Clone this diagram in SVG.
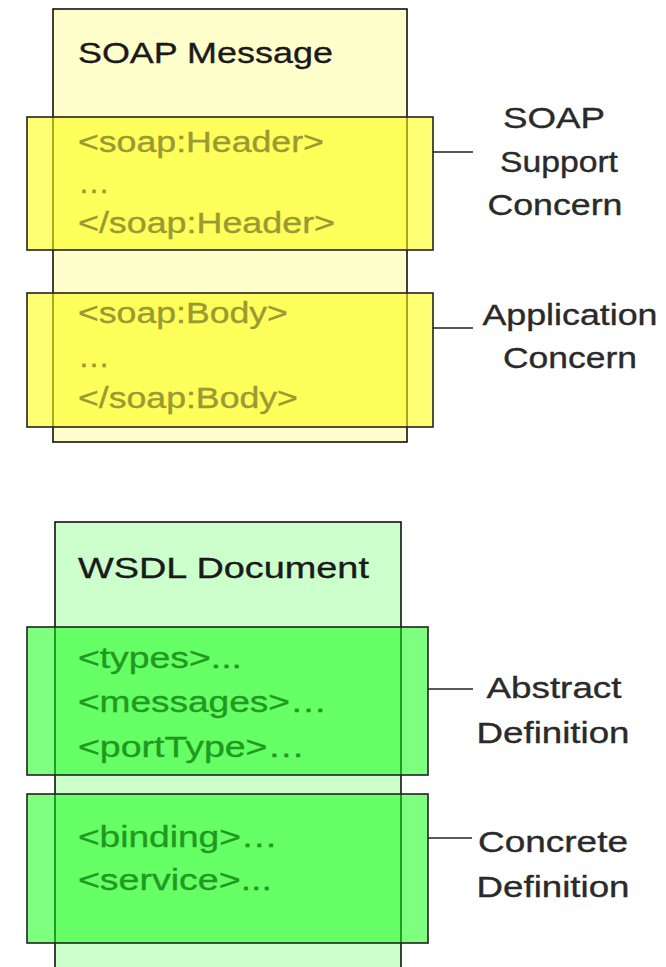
<svg xmlns="http://www.w3.org/2000/svg" width="666" height="967" viewBox="0 0 666 967">
  <style>
    text { font-family: "Liberation Sans", Arial, sans-serif; font-size: 29px; stroke-width: 0.35; }
    .title { fill: #1a1a1a; stroke: #1a1a1a; }
    .label { fill: #2a2a2a; stroke: #2a2a2a; text-anchor: middle; }
    .soapTxt { fill: #9a9a30; stroke: #9a9a30; }
    .wsdlTxt { fill: #1f9a1f; stroke: #1f9a1f; }
    .outer { stroke: #111; stroke-width: 1.6; }
    .part { stroke: #222; stroke-width: 1.6; }
    .soapOuter { fill: #ffffcc; }
    .soapPart { fill: #ffff00; fill-opacity: 0.55; }
    .wsdlOuter { fill: #ccffcc; }
    .wsdlPart { fill: #00ff00; fill-opacity: 0.5; }
    .conn { stroke: #222; stroke-width: 1.6; fill: none; }
  </style>

  <rect width="666" height="967" fill="#ffffff"/>

  <!-- SOAP message container -->
  <g id="soap-message">
    <rect class="outer soapOuter" x="53" y="9" width="354" height="433"/>
    <g transform="scale(1.22 1)">
      <text class="title" x="63.9" y="63" textLength="209" lengthAdjust="spacingAndGlyphs">SOAP Message</text>
    </g>
  </g>

  <g id="soap-header">
    <rect class="part soapPart" x="27" y="117" width="406" height="133"/>
    <g transform="scale(1.22 1)">
      <text class="soapTxt" x="63.9" y="152" textLength="201.6" lengthAdjust="spacingAndGlyphs">&lt;soap:Header&gt;</text>
      <text class="soapTxt" x="63.9" y="193" textLength="26.2" lengthAdjust="spacingAndGlyphs">…</text>
      <text class="soapTxt" x="63.9" y="233" textLength="210.7" lengthAdjust="spacingAndGlyphs">&lt;/soap:Header&gt;</text>
    </g>
  </g>

  <g id="soap-body">
    <rect class="part soapPart" x="27" y="293" width="406" height="134"/>
    <g transform="scale(1.22 1)">
      <text class="soapTxt" x="63.9" y="323" textLength="172.1" lengthAdjust="spacingAndGlyphs">&lt;soap:Body&gt;</text>
      <text class="soapTxt" x="63.9" y="367" textLength="26.2" lengthAdjust="spacingAndGlyphs">…</text>
      <text class="soapTxt" x="63.9" y="408" textLength="180.3" lengthAdjust="spacingAndGlyphs">&lt;/soap:Body&gt;</text>
    </g>
  </g>

  <g id="soap-support-concern">
    <g transform="scale(1.22 1)">
      <text class="label" x="454.1" y="128" textLength="83.6" lengthAdjust="spacingAndGlyphs">SOAP</text>
      <text class="label" x="458.2" y="172" textLength="96.7" lengthAdjust="spacingAndGlyphs">Support</text>
      <text class="label" x="454.9" y="215" textLength="110.7" lengthAdjust="spacingAndGlyphs">Concern</text>
    </g>
  </g>

  <g id="application-concern">
    <g transform="scale(1.22 1)">
      <text class="label" x="467.2" y="325" textLength="143.4" lengthAdjust="spacingAndGlyphs">Application</text>
      <text class="label" x="467.2" y="368" textLength="109.8" lengthAdjust="spacingAndGlyphs">Concern</text>
    </g>
  </g>

  <!-- WSDL document container -->
  <g id="wsdl-document">
    <rect class="outer wsdlOuter" x="55" y="522" width="346" height="460"/>
    <g transform="scale(1.22 1)">
      <text class="title" x="63.9" y="578" textLength="238.5" lengthAdjust="spacingAndGlyphs">WSDL Document</text>
    </g>
  </g>

  <g id="wsdl-abstract">
    <rect class="part wsdlPart" x="27" y="627" width="401" height="148"/>
    <g transform="scale(1.22 1)">
      <text class="wsdlTxt" x="63.9" y="668" textLength="134.4" lengthAdjust="spacingAndGlyphs">&lt;types&gt;...</text>
      <text class="wsdlTxt" x="63.9" y="712" textLength="204.1" lengthAdjust="spacingAndGlyphs">&lt;messages&gt;…</text>
      <text class="wsdlTxt" x="63.9" y="757" textLength="186.1" lengthAdjust="spacingAndGlyphs">&lt;portType&gt;…</text>
    </g>
  </g>

  <g id="wsdl-concrete">
    <rect class="part wsdlPart" x="27" y="794" width="401" height="149"/>
    <g transform="scale(1.22 1)">
      <text class="wsdlTxt" x="63.9" y="847" textLength="163.9" lengthAdjust="spacingAndGlyphs">&lt;binding&gt;…</text>
      <text class="wsdlTxt" x="63.9" y="890" textLength="159" lengthAdjust="spacingAndGlyphs">&lt;service&gt;...</text>
    </g>
  </g>

  <g id="abstract-definition">
    <g transform="scale(1.22 1)">
      <text class="label" x="454.1" y="698" textLength="110.7" lengthAdjust="spacingAndGlyphs">Abstract</text>
      <text class="label" x="453.3" y="743" textLength="125.4" lengthAdjust="spacingAndGlyphs">Definition</text>
    </g>
  </g>

  <g id="concrete-definition">
    <g transform="scale(1.22 1)">
      <text class="label" x="453.3" y="852" textLength="123" lengthAdjust="spacingAndGlyphs">Concrete</text>
      <text class="label" x="453.3" y="897" textLength="125.4" lengthAdjust="spacingAndGlyphs">Definition</text>
    </g>
  </g>

  <!-- leader lines from sections to their labels -->
  <g id="connectors">
    <line class="conn" x1="433" y1="152" x2="473" y2="152"/>
    <line class="conn" x1="433" y1="328" x2="473" y2="328"/>
    <line class="conn" x1="428" y1="689" x2="473" y2="689"/>
    <line class="conn" x1="428" y1="838" x2="472" y2="838"/>
  </g>
</svg>
